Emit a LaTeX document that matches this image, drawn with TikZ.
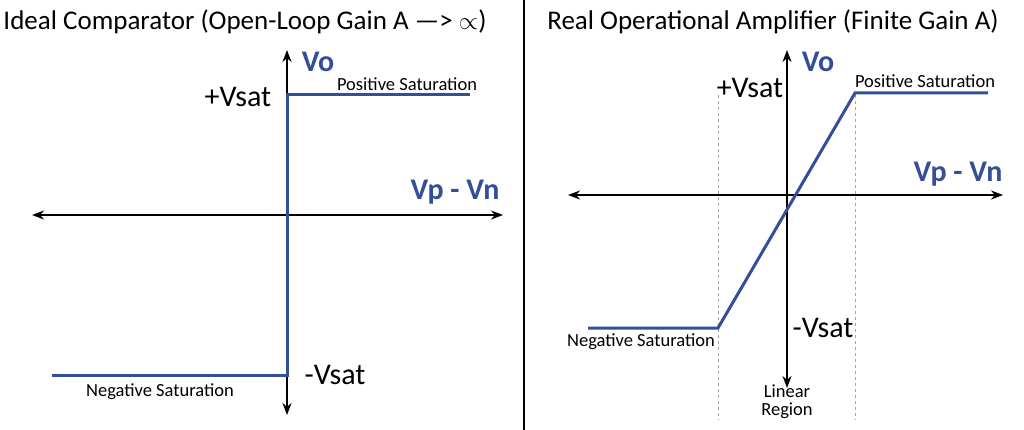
\documentclass[tikz,border=0pt]{standalone}
\usepackage{fontspec}
\setmainfont{Carlito}
\usetikzlibrary{arrows.meta}
\definecolor{curveblue}{RGB}{52,78,152}
\tikzset{
	axis/.style={{Stealth[length=12pt,width=9pt]}-{Stealth[length=12pt,width=9pt]},line width=2pt},
	curve/.style={curveblue,line width=3pt},
	guide/.style={gray!70,dashed,line width=0.8pt},
	axlabel/.style={curveblue,font=\bfseries\fontsize{30}{34}\selectfont},
	lvl/.style={font=\fontsize{30}{34}\selectfont},
	small/.style={font=\fontsize{18.5}{20}\selectfont},
	title/.style={font=\fontsize{27}{30}\selectfont}
}
\begin{document}
\begin{tikzpicture}[x=1pt,y=-1pt]
	\useasboundingbox (0,0) rectangle (1024,430);
	\draw[line width=1.5pt] (524,0) -- (524,430);	%divider
	
	%ideal comparator
	\node[title] (tl) at (245,22) {Ideal Comparator (Open-Loop Gain A ---> $\propto$)};
	\coordinate (lw) at (32,215); \coordinate (le) at (503,215);
	\coordinate (ln) at (287,50); \coordinate (ls) at (287,415);
	\draw[axis] (lw) -- (le);
	\draw[axis] (ln) -- (ls);
	\coordinate (la) at (470,95); \coordinate (lb) at (287,95);
	\coordinate (lc) at (287,375); \coordinate (ld) at (52,375);
	\draw[curve] (la) -- (lb) -- (lc) -- (ld);
	\node[axlabel] (lvo) at (318,62) {Vo};
	\node[axlabel] (lvx) at (455,192) {Vp - Vn};
	\node[lvl] (lps) at (238,97) {+Vsat};
	\node[lvl] (lns) at (335,375) {-Vsat};
	\node[small] (lpt) at (407,84) {Positive Saturation};
	\node[small] (lnt) at (160,392) {Negative Saturation};
	
	%real op amp
	\node[title] (tr) at (773,22) {Real Operational Amplifier (Finite Gain A)};
	\coordinate (rw) at (568,195); \coordinate (re) at (1003,195);
	\coordinate (rn) at (787,50); \coordinate (rs) at (787,388);
	\coordinate (ga) at (718,95); \coordinate (gb) at (718,420);
	\coordinate (gc) at (855,95); \coordinate (gd) at (855,420);
	\draw[guide] (ga) -- (gb);
	\draw[guide] (gc) -- (gd);
	\draw[axis] (rw) -- (re);
	\draw[axis] (rn) -- (rs);
	\coordinate (ra) at (588,328); \coordinate (rb) at (718,328);
	\coordinate (rc) at (855,93); \coordinate (rd) at (988,93);
	\draw[curve] (ra) -- (rb) -- (rc) -- (rd);
	\node[axlabel] (rvo) at (818,62) {Vo};
	\node[axlabel] (rvx) at (958,174) {Vp - Vn};
	\node[lvl] (rps) at (750,88) {+Vsat};
	\node[lvl] (rns) at (823,328) {-Vsat};
	\node[small] (rpt) at (925,81) {Positive Saturation};
	\node[small] (rnt) at (641,342) {Negative Saturation};
	\node[small,align=center] (lin) at (787,402) {Linear\\[-2pt]Region};
\end{tikzpicture}
\end{document}
